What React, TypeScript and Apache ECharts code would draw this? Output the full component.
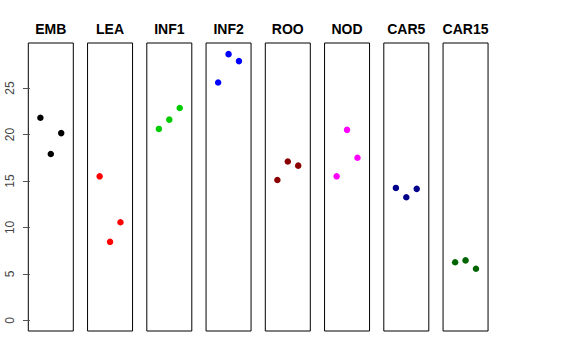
import React, { useEffect, useRef } from "react";
import * as echarts from "echarts";

const panelNames = ["EMB", "LEA", "INF1", "INF2", "ROO", "NOD", "CAR5", "CAR15"];
const panelColors = ["#000000", "#FF0000", "#00CD00", "#0000FF", "#8B0000", "#FF00FF", "#00008B", "#006400"];
const xPositions = [1, 2, 3];
const emb = [21.8, 17.9, 20.15];
const lea = [15.5, 8.45, 10.55];
const inf1 = [20.6, 21.6, 22.85];
const inf2 = [25.6, 28.65, 27.9];
const roo = [15.1, 17.1, 16.65];
const nod = [15.5, 20.5, 17.5];
const car5 = [14.25, 13.25, 14.15];
const car15 = [6.25, 6.45, 5.55];
const yTicks = [0, 5, 10, 15, 20, 25];
const panelValues = [emb, lea, inf1, inf2, roo, nod, car5, car15];

export default function App() {
  const ref = useRef<HTMLDivElement>(null);
  useEffect(() => {
    document.body.style.margin = "0";
    const chart = echarts.init(ref.current!, null, { renderer: "svg" });
    const left0 = 28.3;
    const pitch = 59.25;
    const w = 45;
    const top = 43;
    const h = 288;
    const grids = panelNames.map((_, i) => ({
      left: left0 + i * pitch,
      top,
      width: w,
      height: h,
      show: true,
      borderColor: "#000",
      borderWidth: 1,
      backgroundColor: "transparent",
    }));
    const xAxes = panelNames.map((_, i) => ({
      type: "value" as const,
      gridIndex: i,
      min: -0.16,
      max: 4.16,
      show: false,
    }));
    const yAxes = panelNames.map((_, i) => ({
      type: "value" as const,
      gridIndex: i,
      min: -1.15,
      max: 29.85,
      axisLine: { show: false },
      splitLine: { show: false },
      axisTick: {
        show: i === 0,
        length: 7,
        customValues: yTicks,
        lineStyle: { color: "#555", width: 1 },
      },
      axisLabel: {
        show: i === 0,
        customValues: yTicks,
        rotate: 90,
        margin: 12,
        fontSize: 12,
        color: "#444",
        fontFamily: "Liberation Sans, Arial, sans-serif",
      },
    }));
    const series = panelNames.map((name, i) => ({
      type: "scatter" as const,
      name,
      xAxisIndex: i,
      yAxisIndex: i,
      symbol: "circle",
      symbolSize: 6.5,
      itemStyle: { color: panelColors[i], opacity: 1 },
      emphasis: { disabled: true },
      data: xPositions.map((x, j) => [x, panelValues[i][j]]),
    }));
    const graphic = panelNames.map((name, i) => ({
      type: "text" as const,
      x: left0 + i * pitch + w / 2,
      y: 29,
      style: {
        text: name,
        align: "center",
        verticalAlign: "middle",
        font: "bold 14px 'Liberation Sans', Arial, sans-serif",
        fill: "#000",
      },
    }));
    chart.setOption({
      animation: false,
      backgroundColor: "#fff",
      grid: grids,
      xAxis: xAxes,
      yAxis: yAxes,
      series,
      graphic,
    });
    return () => chart.dispose();
  }, []);
  return <div ref={ref} style={{ width: 576, height: 360 }} />;
}
